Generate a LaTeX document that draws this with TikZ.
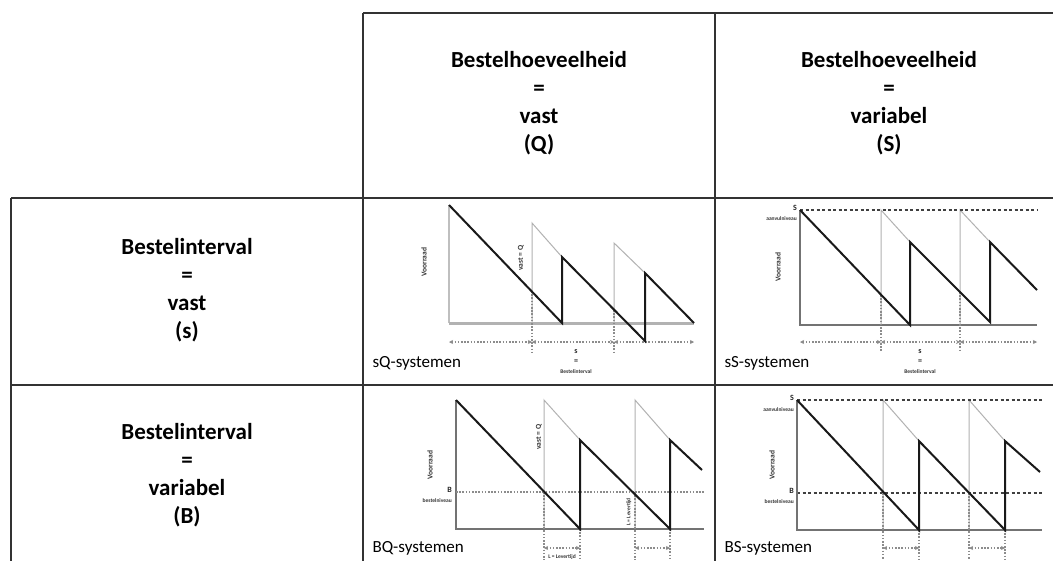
\documentclass[tikz,border=0pt]{standalone}
\usepackage{fontspec}
\setmainfont{Carlito}
\usetikzlibrary{arrows.meta}
\tikzset{
  gridl/.style={line width=2pt, draw=black!80},
  axisl/.style={line width=1.2pt, draw=black!55},
  sawl/.style={line width=2pt, draw=black!90},
  ghostl/.style={line width=1pt, draw=black!30},
  dotl/.style={line width=1.4pt, draw=black!45, dash pattern=on 1.6pt off 1.6pt},
  dotarr/.style={dotl, {Stealth[length=4pt,width=4pt]}-{Stealth[length=4pt,width=4pt]}},
  levl/.style={line width=1.2pt, draw=black!75, dash pattern=on 3pt off 2.5pt},
  head/.style={align=center, font=\fontsize{23}{28}\selectfont\bfseries},
  syst/.style={anchor=west, font=\fontsize{17}{20}\selectfont},
  tiny/.style={font=\fontsize{5.5}{6}\selectfont\bfseries, inner sep=0pt, text=black!80},
  small/.style={font=\fontsize{8}{9}\selectfont\bfseries, inner sep=0pt, text=black!85},
  ylab/.style={font=\fontsize{7.5}{8}\selectfont\bfseries, inner sep=0pt, rotate=90, text=black!80}
}
\begin{document}
\begin{tikzpicture}[x=1pt,y=-1pt]
\useasboundingbox (0,0) rectangle (1053,560);
\clip (0,0) rectangle (1053,560);
\fill[white] (0,0) rectangle (1053,560);
% grid
\draw[gridl] (363,13) -- (1060,13);
\draw[gridl] (11,198) -- (1060,198);
\draw[gridl] (11,385) -- (1060,385);
\draw[gridl] (11,198) -- (11,570);
\draw[gridl] (363,13) -- (363,570);
\draw[gridl] (715,13) -- (715,570);
% headers
\node[head] (hQ) at (539,103) {Bestelhoeveelheid\\=\\vast\\(Q)};
\node[head] (hS) at (889,103) {Bestelhoeveelheid\\=\\variabel\\(S)};
\node[head] (hs) at (187,290) {Bestelinterval\\=\\vast\\(s)};
\node[head] (hB) at (187,475) {Bestelinterval\\=\\variabel\\(B)};

% ===== sQ =====
\draw[ghostl] (532,323) -- (532,223) -- (562,257);
\draw[ghostl] (614,323) -- (614,243) -- (645,273);
\draw[axisl, draw=black!25] (449,205) -- (449,323);
\draw[line width=3pt, draw=black!30] (449,323) -- (694,323);
\draw[dotl] (532,291) -- (532,352);
\draw[dotl] (614,310) -- (614,352);
\draw[dotarr] (449,342) -- (532,342);
\draw[dotarr] (532,342) -- (614,342);
\draw[dotarr] (614,342) -- (694,342);
\draw[sawl] (449,205) -- (562,323) -- (562,257) -- (645,341) -- (645,273) -- (694,323);
\node[ylab] (vQ) at (424,262) {Voorraad};
\node[ylab] (qQ) at (521,258) {vast = Q};
\node[small] (s1) at (576,352) {s};
\node[small] (e1) at (576,362) {=};
\node[tiny] (b1) at (576,372) {Bestelinterval};
\node[syst] (sQ) at (369,363) {sQ-systemen};

% ===== sS =====
\draw[ghostl] (881,325) -- (881,210) -- (910,242);
\draw[ghostl] (960,325) -- (960,210) -- (990,242);
\draw[levl] (800,210) -- (1037,210);
\draw[axisl] (800,210) -- (800,325) -- (1037,325);
\draw[dotl] (881,295) -- (881,352);
\draw[dotl] (960,292) -- (960,352);
\draw[dotarr] (800,342) -- (881,342);
\draw[dotarr] (881,342) -- (960,342);
\draw[dotarr] (960,342) -- (1037,342);
\draw[sawl] (800,210) -- (910,325) -- (910,242) -- (990,322) -- (990,242) -- (1037,290);
\node[small, anchor=east] (S2) at (797,208) {S};
\node[tiny, anchor=east] (a2) at (797,219) {aanvulniveau};
\node[ylab] (vS) at (778,267) {Voorraad};
\node[small] (s2) at (920,352) {s};
\node[small] (e2) at (920,362) {=};
\node[tiny] (b2) at (920,372) {Bestelinterval};
\node[syst] (sS) at (721,363) {sS-systemen};

% ===== BQ =====
\draw[ghostl] (544,529) -- (544,400) -- (580,440);
\draw[ghostl] (635,529) -- (635,400) -- (670,440);
\draw[axisl] (456,400) -- (456,529) -- (704,529);
\draw[dotl] (456,492) -- (704,492);
\draw[dotl] (544,492) -- (544,560);
\draw[dotl] (580,529) -- (580,560);
\draw[dotl] (635,492) -- (635,560);
\draw[dotl] (670,529) -- (670,560);
\draw[dotarr] (544,548) -- (580,548);
\draw[dotarr] (635,548) -- (670,548);
\draw[sawl] (456,400) -- (580,529) -- (580,440) -- (670,529) -- (670,440) -- (702,470);
\node[small, anchor=east] (B3) at (452,490) {B};
\node[tiny, anchor=east] (n3) at (452,501) {bestelniveau};
\node[ylab] (vBQ) at (430,465) {Voorraad};
\node[ylab] (qBQ) at (539,437) {vast = Q};
\node[tiny] (L3) at (562,557) {L = Levertijd};
\node[tiny, rotate=90] (L3b) at (629,512) {L = Levertijd};
\node[syst] (BQ) at (369,548) {BQ-systemen};

% ===== BS =====
\draw[ghostl] (883,530) -- (883,400) -- (919,441);
\draw[ghostl] (969,530) -- (969,400) -- (1005,441);
\draw[levl] (797,400) -- (1042,400);
\draw[levl] (797,493) -- (1042,493);
\draw[axisl] (797,400) -- (797,530) -- (1042,530);
\draw[dotl] (883,493) -- (883,560);
\draw[dotl] (919,530) -- (919,560);
\draw[dotl] (969,493) -- (969,560);
\draw[dotl] (1005,530) -- (1005,560);
\draw[dotarr] (883,548) -- (919,548);
\draw[dotarr] (969,548) -- (1005,548);
\draw[sawl] (797,400) -- (919,530) -- (919,441) -- (1005,530) -- (1005,441) -- (1040,472);
\node[small, anchor=east] (S4) at (794,398) {S};
\node[tiny, anchor=east] (a4) at (794,410) {aanvulniveau};
\node[small, anchor=east] (B4) at (794,491) {B};
\node[tiny, anchor=east] (n4) at (794,502) {bestelniveau};
\node[ylab] (vBS) at (772,465) {Voorraad};
\node[syst] (BS) at (721,548) {BS-systemen};
\end{tikzpicture}
\end{document}
